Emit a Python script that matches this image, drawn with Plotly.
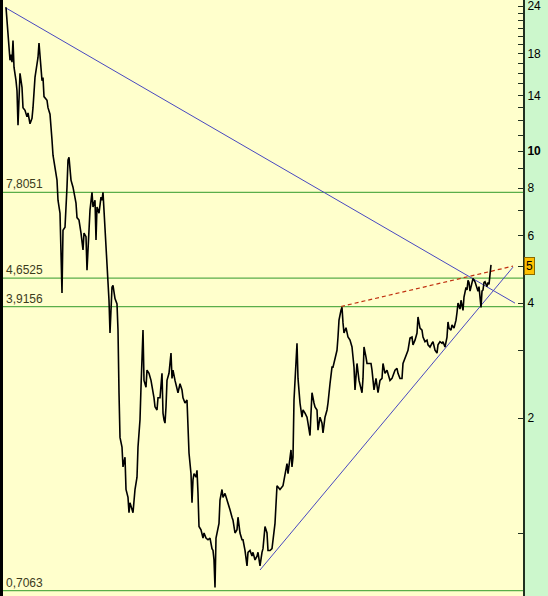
import math
import plotly.graph_objects as go

# price trace (trading-day index, close)
days_1 = [6, 7, 8, 9, 10, 11, 12, 13, 14, 16, 17, 18, 20, 22, 23, 25, 27, 28, 30, 32,
          33, 35, 37, 38, 39, 41, 42, 43, 44, 47, 48, 50, 51, 52, 53, 55, 57, 58, 60, 61,
          62, 63, 65, 67, 68, 69, 71, 73, 74, 76, 77, 79, 81, 82, 83, 84, 86, 87, 89, 90,
          92, 93, 95, 96, 97, 99, 101, 102, 103, 105, 106, 107, 108, 109, 110, 112, 113, 115, 117, 118,
          119, 120, 122, 123, 125, 126, 128, 129]
close_1 = [23.8, 22.0, 20.4, 18.7, 17.3, 17.9, 17.1, 19.5, 16.6, 15.3, 14.4, 11.7, 16.0, 14.7, 13.0, 12.8, 12.3, 12.6, 11.8, 12.2,
           13.0, 15.6, 17.0, 17.6, 19.2, 17.0, 15.3, 15.6, 13.9, 13.6, 13.0, 12.5, 11.1, 10.7, 9.76, 9.08, 8.40, 7.44, 6.88, 5.41,
           4.25, 6.21, 6.32, 8.05, 9.47, 9.64, 8.40, 8.05, 7.80, 7.31, 6.70, 6.60, 6.10, 5.85, 5.51, 6.10, 5.97, 4.88, 6.10, 7.01,
           7.80, 7.14, 7.44, 5.85, 7.14, 6.88, 7.58, 7.44, 7.80, 6.32, 5.62, 5.12, 4.68, 4.07, 3.34, 4.40, 4.45, 4.11, 3.98, 3.40,
           2.33, 1.78, 1.68, 1.49, 1.58, 1.30, 1.24, 1.13]

days_2 = [130, 133, 135, 137, 138, 140, 141, 142, 143, 144, 146, 147, 149, 151, 153, 154, 155, 157, 158, 160,
          162, 163, 164, 165, 166, 167, 169, 171, 172, 173, 175, 177, 178, 180, 182, 183, 185, 187, 188, 189,
          191, 192, 193, 194, 196, 197, 198, 199, 201, 203, 204, 206, 208, 210, 212, 213, 214, 215, 216, 217,
          219, 220, 222, 223, 225, 227, 228, 230, 232, 233, 235, 237, 238, 240, 242, 243, 245, 247, 248, 250,
          252, 253, 255, 257, 258, 260, 262, 263, 265, 267, 268, 270]
close_2 = [1.20, 1.13, 1.30, 1.40, 1.68, 1.98, 2.41, 3.07, 3.40, 2.51, 2.41, 2.67, 2.62, 2.51, 2.37, 2.26, 2.14, 2.10, 2.26, 2.26,
           2.62, 2.06, 1.98, 1.94, 2.14, 2.51, 2.62, 2.96, 2.54, 2.67, 2.51, 2.41, 2.33, 2.46, 2.37, 2.26, 2.19, 2.23, 1.98, 1.62,
           1.43, 1.20, 1.38, 1.43, 1.40, 1.46, 1.27, 1.04, 1.02, 0.97, 1.00, 0.97, 0.96, 0.97, 0.91, 0.90, 0.85, 0.72, 0.97, 1.00,
           1.06, 1.22, 1.30, 1.24, 1.27, 1.22, 1.20, 1.15, 1.10, 1.08, 1.00, 1.02, 1.10, 1.00, 0.96, 0.96, 0.90, 0.82, 0.89, 0.90,
           0.87, 0.89, 0.85, 0.87, 0.89, 0.82, 0.89, 0.91, 1.04, 1.00, 0.90, 0.90]

days_3 = [272, 275, 277, 280, 283, 286, 287, 288, 290, 291, 292, 293, 294, 296, 297, 298, 299, 300, 302, 303,
          305, 307, 308, 310, 311, 312, 314, 315, 317, 318, 320, 322, 323, 325, 327, 328, 330, 332, 333, 335,
          337, 338, 339, 341, 342, 343, 344, 346, 347, 348, 350, 352, 353, 354, 355, 356, 357, 359, 361, 362,
          363, 364, 366, 367, 369, 371, 372, 373, 374, 376, 377, 378, 380, 382, 383, 385, 387, 388, 390, 392,
          393, 395, 397, 398, 400, 402]
close_3 = [0.91, 1.06, 1.33, 1.30, 1.33, 1.46, 1.52, 1.43, 1.62, 1.65, 1.49, 1.58, 2.23, 2.84, 3.14, 2.54, 2.33, 2.19, 2.01, 2.10,
           2.06, 2.01, 1.94, 1.80, 2.06, 2.33, 2.19, 2.14, 2.10, 1.86, 2.01, 1.94, 1.83, 2.01, 2.10, 2.19, 2.46, 2.72, 2.72, 2.89,
           3.01, 3.26, 3.61, 3.83, 3.90, 3.55, 3.34, 3.45, 3.34, 3.26, 3.20, 3.07, 2.89, 2.72, 2.37, 2.62, 2.78, 2.51, 2.41, 2.33,
           2.54, 3.07, 2.89, 2.78, 2.78, 2.78, 2.67, 2.51, 2.37, 2.54, 2.46, 2.33, 2.51, 2.54, 2.78, 2.62, 2.67, 2.62, 2.51, 2.54,
           2.58, 2.67, 2.70, 2.62, 2.54, 2.54]

days_4 = [403, 405, 407, 408, 410, 412, 413, 415, 417, 418, 419, 420, 422, 423, 425, 427, 428, 430, 432, 433,
          435, 437, 438, 440, 442, 443, 445, 447, 448, 449, 451, 452, 454, 456, 457, 458, 460, 461, 463, 464,
          466, 467, 468, 469, 470, 472, 473, 475, 477, 478, 479, 480, 481, 482, 483, 484, 485, 487, 488, 489,
          490, 491]
close_4 = [2.78, 2.89, 2.96, 3.01, 3.24, 3.26, 3.11, 3.20, 3.34, 3.68, 3.57, 3.44, 3.40, 3.26, 3.17, 3.20, 3.11, 3.07, 3.14, 3.17,
           3.01, 2.96, 3.11, 3.17, 3.14, 3.17, 3.07, 3.26, 3.57, 3.44, 3.40, 3.51, 3.44, 3.61, 3.78, 4.00, 3.86, 4.07, 3.83, 4.15,
           4.40, 4.33, 4.59, 4.53, 4.30, 4.59, 4.64, 4.55, 4.33, 4.30, 4.42, 4.07, 3.90, 4.30, 4.33, 4.53, 4.55, 4.42, 4.53, 4.48,
           4.81, 5.04]

# trend lines
down_days, down_vals = [5, 515], [23.8, 4.0]
up_days, up_vals = [260, 513], [0.80, 4.97]
red_days, red_vals = [341, 513], [3.92, 5.0]

# horizontal levels
levels = [7.8051, 4.6525, 3.9156, 0.7063]
level_labels = ['7,8051', '4,6525', '3,9156', '0,7063']

# right axis ticks
tick_vals = [1, 2, 3, 4, 5, 6, 7, 8, 9, 10, 11, 12, 13, 14, 15, 16, 17, 18, 19, 20, 21, 22, 23, 24]
tick_text = ['', '2', '', '4', '', '6', '', '8', '', '<b>10</b>', '', '', '', '14', '', '', '', '18',
             '', '', '', '', '', '24']
last_label = '5'
last_val = 5.0

days = days_1 + days_2 + days_3 + days_4
close = close_1 + close_2 + close_3 + close_4

X0, X1 = 3, 523

fig = go.Figure()

# niveaux horizontaux
for lv in levels:
    fig.add_trace(go.Scatter(x=[X0, X1], y=[lv, lv], mode='lines',
                             line=dict(color='#5aae4a', width=1.2), hoverinfo='skip'))

# lignes de tendance
fig.add_trace(go.Scatter(x=down_days, y=down_vals, mode='lines',
                         line=dict(color='#4848c0', width=1), hoverinfo='skip'))
fig.add_trace(go.Scatter(x=up_days, y=up_vals, mode='lines',
                         line=dict(color='#4848c0', width=1), hoverinfo='skip'))
fig.add_trace(go.Scatter(x=red_days, y=red_vals, mode='lines',
                         line=dict(color='#c03010', width=1.2, dash='4px,3px'), hoverinfo='skip'))

# cours
fig.add_trace(go.Scatter(x=days, y=close, mode='lines',
                         line=dict(color='black', width=1.6)))

for lv, lab in zip(levels, level_labels):
    fig.add_annotation(x=0, xref='paper', y=math.log10(lv), yref='y',
                       text=lab, showarrow=False, xanchor='left', yanchor='bottom',
                       xshift=1, yshift=-1,
                       font=dict(size=12, color='#3c3c1c', family='Liberation Sans, Arial'))

# last value box
fig.add_annotation(x=1, xref='paper', y=math.log10(last_val), yref='y',
                   text=last_label, showarrow=False, xanchor='left', yanchor='middle',
                   xshift=1, bgcolor='#ffc000', bordercolor='#8a6a00', borderwidth=1, borderpad=1,
                   font=dict(size=12, color='black', family='Liberation Sans, Arial'))

# left border
fig.add_shape(type='rect', xref='paper', yref='paper', x0=-0.006, x1=0, y0=0, y1=1,
              fillcolor='black', line_width=0)

fig.update_layout(
    width=548, height=596,
    showlegend=False,
    plot_bgcolor='#ffffcc',
    paper_bgcolor='#ccf7cc',
    margin=dict(l=3, r=25, t=0, b=0),
    hovermode=False,
)
fig.update_xaxes(range=[X0, X1], visible=False, showgrid=False)
fig.update_yaxes(type='log', range=[-0.165, 1.396], side='right',
                 tickmode='array', tickvals=tick_vals, ticktext=tick_text,
                 ticks='inside', ticklen=5, tickcolor='#203020', tickwidth=1,
                 showline=True, linecolor='#203020', linewidth=2,
                 showgrid=False, zeroline=False, ticklabeloverflow='allow',
                 tickfont=dict(size=12, color='black', family='Liberation Sans, Arial'))

fig.write_html("out.html", config={'displayModeBar': False},
               post_script="document.body.style.margin='0px';document.body.style.overflow='hidden';")
